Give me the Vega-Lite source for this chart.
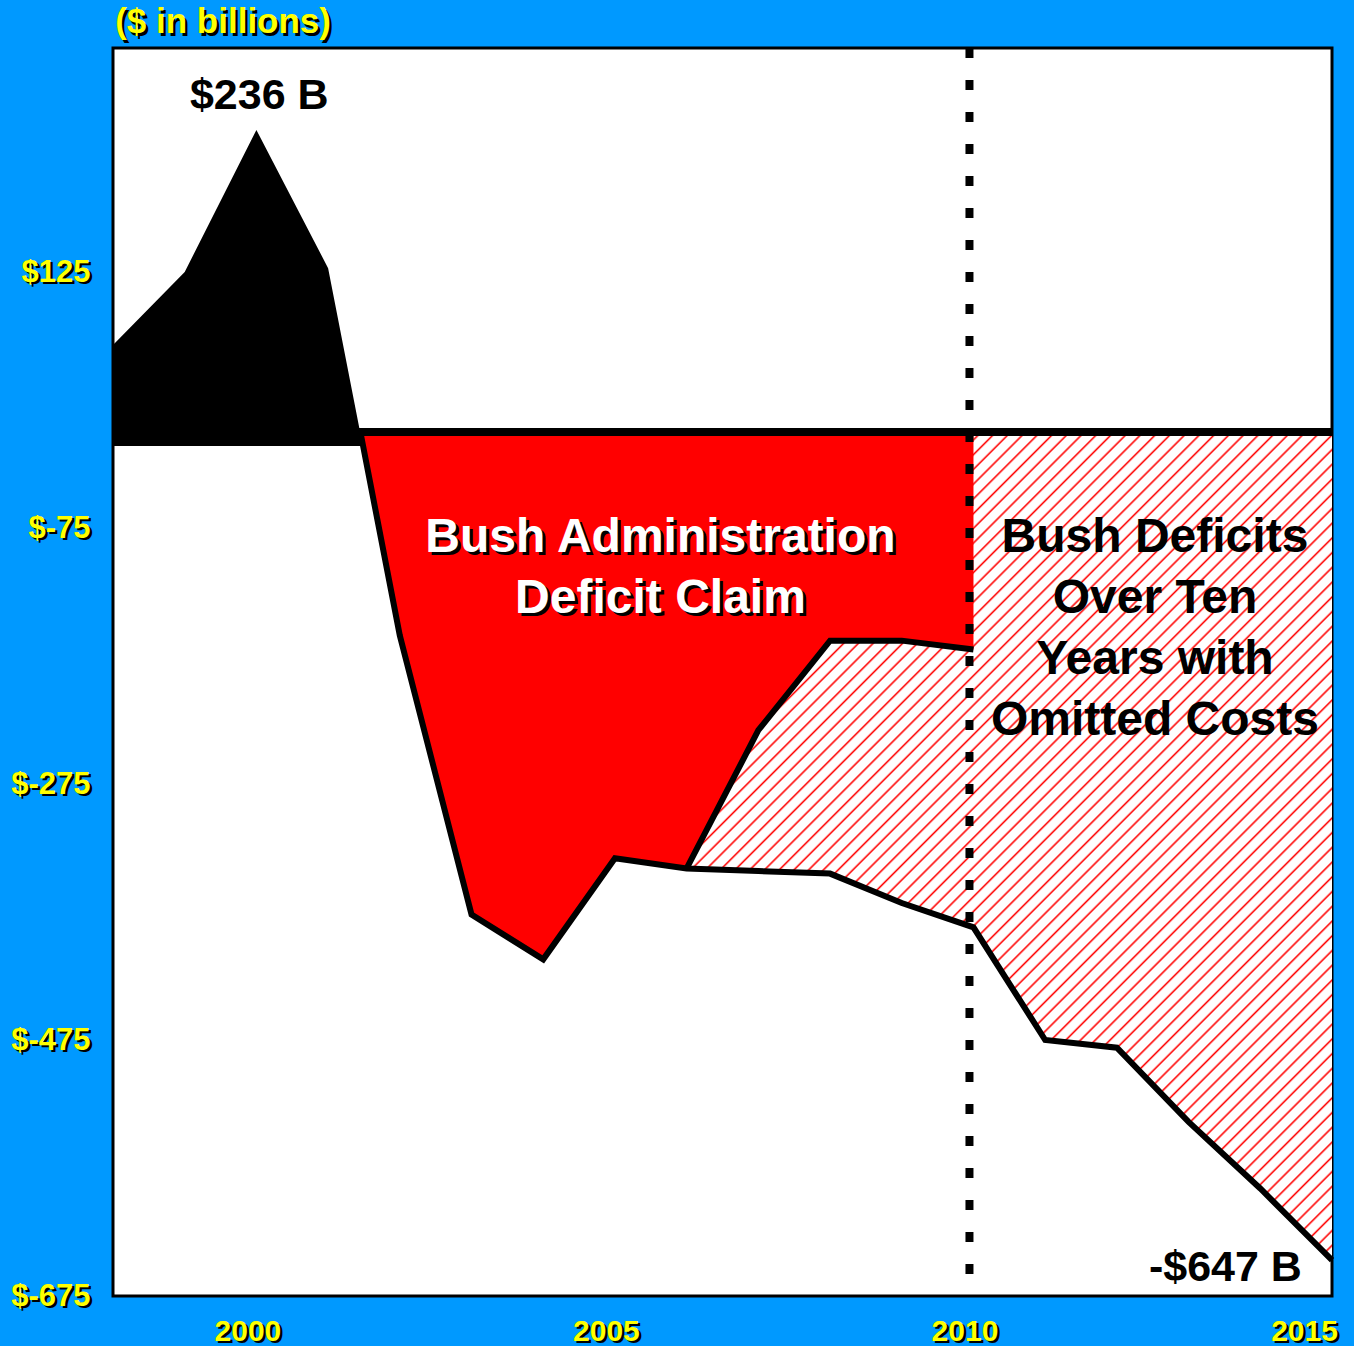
{
  "$schema": "https://vega.github.io/schema/vega-lite/v6.json",
  "width": 1219,
  "height": 1248,
  "padding": {"left": 113, "top": 48, "right": 22, "bottom": 50},
  "autosize": {"type": "none"},
  "background": "#0099ff",
  "config": {
    "view": {"stroke": "#000000", "strokeWidth": 3, "fill": "#ffffff"},
    "text": {"font": "Liberation Sans", "fontWeight": "bold"}
  },
  "datasets": {
    "main": [
      {"series": "surplus", "year": 1998, "value": 68},
      {"series": "surplus", "year": 1999, "value": 125},
      {"series": "surplus", "year": 2000, "value": 236},
      {"series": "surplus", "year": 2001, "value": 128},
      {"series": "surplus", "year": 2001.484, "value": -11},
      {"series": "actual", "year": 2001.45, "value": 0},
      {"series": "actual", "year": 2002, "value": -159},
      {"series": "actual", "year": 2003, "value": -377},
      {"series": "actual", "year": 2004, "value": -412},
      {"series": "actual", "year": 2005, "value": -333},
      {"series": "actual", "year": 2006, "value": -341},
      {"series": "actual", "year": 2007, "value": -343},
      {"series": "actual", "year": 2008, "value": -345},
      {"series": "actual", "year": 2009, "value": -368},
      {"series": "actual", "year": 2010, "value": -387},
      {"series": "actual", "year": 2011, "value": -475},
      {"series": "actual", "year": 2012, "value": -481},
      {"series": "actual", "year": 2013, "value": -539},
      {"series": "actual", "year": 2014, "value": -591},
      {"series": "actual", "year": 2015, "value": -647},
      {"series": "claim", "year": 2001.45, "value": 0},
      {"series": "claim", "year": 2002, "value": -159},
      {"series": "claim", "year": 2003, "value": -377},
      {"series": "claim", "year": 2004, "value": -412},
      {"series": "claim", "year": 2005, "value": -333},
      {"series": "claim", "year": 2006, "value": -341},
      {"series": "claim", "year": 2007, "value": -233},
      {"series": "claim", "year": 2008, "value": -163},
      {"series": "claim", "year": 2009, "value": -163},
      {"series": "claim", "year": 2010, "value": -170}
    ]
  },
  "encoding": {
    "x": {"field": "year", "type": "quantitative", "scale": {"domain": [1998, 2015], "nice": false, "zero": false}, "axis": null},
    "y": {"field": "value", "type": "quantitative", "scale": {"domain": [-675, 300], "nice": false, "zero": false}, "axis": null}
  },
  "resolve": {"axis": {"x": "independent", "y": "independent"}},
  "layer": [
    {
      "data": {"name": "main"},
      "transform": [{"filter": "datum.series == 'actual' && datum.year >= 2006"}],
      "mark": {
        "type": "area",
        "fill": {
          "gradient": "linear",
          "x1": 0, "y1": 0, "x2": 0.8627, "y2": 1.107,
          "stops": [
{"offset":0,"color":"#f00"},{"offset":0.0015,"color":"#fff"},{"offset":0.0085,"color":"#fff"},
{"offset":0.01,"color":"#f00"},{"offset":0.0115,"color":"#fff"},{"offset":0.0185,"color":"#fff"},
{"offset":0.02,"color":"#f00"},{"offset":0.0215,"color":"#fff"},{"offset":0.0285,"color":"#fff"},
{"offset":0.03,"color":"#f00"},{"offset":0.0315,"color":"#fff"},{"offset":0.0385,"color":"#fff"},
{"offset":0.04,"color":"#f00"},{"offset":0.0415,"color":"#fff"},{"offset":0.0485,"color":"#fff"},
{"offset":0.05,"color":"#f00"},{"offset":0.0515,"color":"#fff"},{"offset":0.0585,"color":"#fff"},
{"offset":0.06,"color":"#f00"},{"offset":0.0615,"color":"#fff"},{"offset":0.0685,"color":"#fff"},
{"offset":0.07,"color":"#f00"},{"offset":0.0715,"color":"#fff"},{"offset":0.0785,"color":"#fff"},
{"offset":0.08,"color":"#f00"},{"offset":0.0815,"color":"#fff"},{"offset":0.0885,"color":"#fff"},
{"offset":0.09,"color":"#f00"},{"offset":0.0915,"color":"#fff"},{"offset":0.0985,"color":"#fff"},
{"offset":0.10,"color":"#f00"},{"offset":0.1015,"color":"#fff"},{"offset":0.1085,"color":"#fff"},
{"offset":0.11,"color":"#f00"},{"offset":0.1115,"color":"#fff"},{"offset":0.1185,"color":"#fff"},
{"offset":0.12,"color":"#f00"},{"offset":0.1215,"color":"#fff"},{"offset":0.1285,"color":"#fff"},
{"offset":0.13,"color":"#f00"},{"offset":0.1315,"color":"#fff"},{"offset":0.1385,"color":"#fff"},
{"offset":0.14,"color":"#f00"},{"offset":0.1415,"color":"#fff"},{"offset":0.1485,"color":"#fff"},
{"offset":0.15,"color":"#f00"},{"offset":0.1515,"color":"#fff"},{"offset":0.1585,"color":"#fff"},
{"offset":0.16,"color":"#f00"},{"offset":0.1615,"color":"#fff"},{"offset":0.1685,"color":"#fff"},
{"offset":0.17,"color":"#f00"},{"offset":0.1715,"color":"#fff"},{"offset":0.1785,"color":"#fff"},
{"offset":0.18,"color":"#f00"},{"offset":0.1815,"color":"#fff"},{"offset":0.1885,"color":"#fff"},
{"offset":0.19,"color":"#f00"},{"offset":0.1915,"color":"#fff"},{"offset":0.1985,"color":"#fff"},
{"offset":0.20,"color":"#f00"},{"offset":0.2015,"color":"#fff"},{"offset":0.2085,"color":"#fff"},
{"offset":0.21,"color":"#f00"},{"offset":0.2115,"color":"#fff"},{"offset":0.2185,"color":"#fff"},
{"offset":0.22,"color":"#f00"},{"offset":0.2215,"color":"#fff"},{"offset":0.2285,"color":"#fff"},
{"offset":0.23,"color":"#f00"},{"offset":0.2315,"color":"#fff"},{"offset":0.2385,"color":"#fff"},
{"offset":0.24,"color":"#f00"},{"offset":0.2415,"color":"#fff"},{"offset":0.2485,"color":"#fff"},
{"offset":0.25,"color":"#f00"},{"offset":0.2515,"color":"#fff"},{"offset":0.2585,"color":"#fff"},
{"offset":0.26,"color":"#f00"},{"offset":0.2615,"color":"#fff"},{"offset":0.2685,"color":"#fff"},
{"offset":0.27,"color":"#f00"},{"offset":0.2715,"color":"#fff"},{"offset":0.2785,"color":"#fff"},
{"offset":0.28,"color":"#f00"},{"offset":0.2815,"color":"#fff"},{"offset":0.2885,"color":"#fff"},
{"offset":0.29,"color":"#f00"},{"offset":0.2915,"color":"#fff"},{"offset":0.2985,"color":"#fff"},
{"offset":0.30,"color":"#f00"},{"offset":0.3015,"color":"#fff"},{"offset":0.3085,"color":"#fff"},
{"offset":0.31,"color":"#f00"},{"offset":0.3115,"color":"#fff"},{"offset":0.3185,"color":"#fff"},
{"offset":0.32,"color":"#f00"},{"offset":0.3215,"color":"#fff"},{"offset":0.3285,"color":"#fff"},
{"offset":0.33,"color":"#f00"},{"offset":0.3315,"color":"#fff"},{"offset":0.3385,"color":"#fff"},
{"offset":0.34,"color":"#f00"},{"offset":0.3415,"color":"#fff"},{"offset":0.3485,"color":"#fff"},
{"offset":0.35,"color":"#f00"},{"offset":0.3515,"color":"#fff"},{"offset":0.3585,"color":"#fff"},
{"offset":0.36,"color":"#f00"},{"offset":0.3615,"color":"#fff"},{"offset":0.3685,"color":"#fff"},
{"offset":0.37,"color":"#f00"},{"offset":0.3715,"color":"#fff"},{"offset":0.3785,"color":"#fff"},
{"offset":0.38,"color":"#f00"},{"offset":0.3815,"color":"#fff"},{"offset":0.3885,"color":"#fff"},
{"offset":0.39,"color":"#f00"},{"offset":0.3915,"color":"#fff"},{"offset":0.3985,"color":"#fff"},
{"offset":0.40,"color":"#f00"},{"offset":0.4015,"color":"#fff"},{"offset":0.4085,"color":"#fff"},
{"offset":0.41,"color":"#f00"},{"offset":0.4115,"color":"#fff"},{"offset":0.4185,"color":"#fff"},
{"offset":0.42,"color":"#f00"},{"offset":0.4215,"color":"#fff"},{"offset":0.4285,"color":"#fff"},
{"offset":0.43,"color":"#f00"},{"offset":0.4315,"color":"#fff"},{"offset":0.4385,"color":"#fff"},
{"offset":0.44,"color":"#f00"},{"offset":0.4415,"color":"#fff"},{"offset":0.4485,"color":"#fff"},
{"offset":0.45,"color":"#f00"},{"offset":0.4515,"color":"#fff"},{"offset":0.4585,"color":"#fff"},
{"offset":0.46,"color":"#f00"},{"offset":0.4615,"color":"#fff"},{"offset":0.4685,"color":"#fff"},
{"offset":0.47,"color":"#f00"},{"offset":0.4715,"color":"#fff"},{"offset":0.4785,"color":"#fff"},
{"offset":0.48,"color":"#f00"},{"offset":0.4815,"color":"#fff"},{"offset":0.4885,"color":"#fff"},
{"offset":0.49,"color":"#f00"},{"offset":0.4915,"color":"#fff"},{"offset":0.4985,"color":"#fff"},
{"offset":0.50,"color":"#f00"},{"offset":0.5015,"color":"#fff"},{"offset":0.5085,"color":"#fff"},
{"offset":0.51,"color":"#f00"},{"offset":0.5115,"color":"#fff"},{"offset":0.5185,"color":"#fff"},
{"offset":0.52,"color":"#f00"},{"offset":0.5215,"color":"#fff"},{"offset":0.5285,"color":"#fff"},
{"offset":0.53,"color":"#f00"},{"offset":0.5315,"color":"#fff"},{"offset":0.5385,"color":"#fff"},
{"offset":0.54,"color":"#f00"},{"offset":0.5415,"color":"#fff"},{"offset":0.5485,"color":"#fff"},
{"offset":0.55,"color":"#f00"},{"offset":0.5515,"color":"#fff"},{"offset":0.5585,"color":"#fff"},
{"offset":0.56,"color":"#f00"},{"offset":0.5615,"color":"#fff"},{"offset":0.5685,"color":"#fff"},
{"offset":0.57,"color":"#f00"},{"offset":0.5715,"color":"#fff"},{"offset":0.5785,"color":"#fff"},
{"offset":0.58,"color":"#f00"},{"offset":0.5815,"color":"#fff"},{"offset":0.5885,"color":"#fff"},
{"offset":0.59,"color":"#f00"},{"offset":0.5915,"color":"#fff"},{"offset":0.5985,"color":"#fff"},
{"offset":0.60,"color":"#f00"},{"offset":0.6015,"color":"#fff"},{"offset":0.6085,"color":"#fff"},
{"offset":0.61,"color":"#f00"},{"offset":0.6115,"color":"#fff"},{"offset":0.6185,"color":"#fff"},
{"offset":0.62,"color":"#f00"},{"offset":0.6215,"color":"#fff"},{"offset":0.6285,"color":"#fff"},
{"offset":0.63,"color":"#f00"},{"offset":0.6315,"color":"#fff"},{"offset":0.6385,"color":"#fff"},
{"offset":0.64,"color":"#f00"},{"offset":0.6415,"color":"#fff"},{"offset":0.6485,"color":"#fff"},
{"offset":0.65,"color":"#f00"},{"offset":0.6515,"color":"#fff"},{"offset":0.6585,"color":"#fff"},
{"offset":0.66,"color":"#f00"},{"offset":0.6615,"color":"#fff"},{"offset":0.6685,"color":"#fff"},
{"offset":0.67,"color":"#f00"},{"offset":0.6715,"color":"#fff"},{"offset":0.6785,"color":"#fff"},
{"offset":0.68,"color":"#f00"},{"offset":0.6815,"color":"#fff"},{"offset":0.6885,"color":"#fff"},
{"offset":0.69,"color":"#f00"},{"offset":0.6915,"color":"#fff"},{"offset":0.6985,"color":"#fff"},
{"offset":0.70,"color":"#f00"},{"offset":0.7015,"color":"#fff"},{"offset":0.7085,"color":"#fff"},
{"offset":0.71,"color":"#f00"},{"offset":0.7115,"color":"#fff"},{"offset":0.7185,"color":"#fff"},
{"offset":0.72,"color":"#f00"},{"offset":0.7215,"color":"#fff"},{"offset":0.7285,"color":"#fff"},
{"offset":0.73,"color":"#f00"},{"offset":0.7315,"color":"#fff"},{"offset":0.7385,"color":"#fff"},
{"offset":0.74,"color":"#f00"},{"offset":0.7415,"color":"#fff"},{"offset":0.7485,"color":"#fff"},
{"offset":0.75,"color":"#f00"},{"offset":0.7515,"color":"#fff"},{"offset":0.7585,"color":"#fff"},
{"offset":0.76,"color":"#f00"},{"offset":0.7615,"color":"#fff"},{"offset":0.7685,"color":"#fff"},
{"offset":0.77,"color":"#f00"},{"offset":0.7715,"color":"#fff"},{"offset":0.7785,"color":"#fff"},
{"offset":0.78,"color":"#f00"},{"offset":0.7815,"color":"#fff"},{"offset":0.7885,"color":"#fff"},
{"offset":0.79,"color":"#f00"},{"offset":0.7915,"color":"#fff"},{"offset":0.7985,"color":"#fff"},
{"offset":0.80,"color":"#f00"},{"offset":0.8015,"color":"#fff"},{"offset":0.8085,"color":"#fff"},
{"offset":0.81,"color":"#f00"},{"offset":0.8115,"color":"#fff"},{"offset":0.8185,"color":"#fff"},
{"offset":0.82,"color":"#f00"},{"offset":0.8215,"color":"#fff"},{"offset":0.8285,"color":"#fff"},
{"offset":0.83,"color":"#f00"},{"offset":0.8315,"color":"#fff"},{"offset":0.8385,"color":"#fff"},
{"offset":0.84,"color":"#f00"},{"offset":0.8415,"color":"#fff"},{"offset":0.8485,"color":"#fff"},
{"offset":0.85,"color":"#f00"},{"offset":0.8515,"color":"#fff"},{"offset":0.8585,"color":"#fff"},
{"offset":0.86,"color":"#f00"},{"offset":0.8615,"color":"#fff"},{"offset":0.8685,"color":"#fff"},
{"offset":0.87,"color":"#f00"},{"offset":0.8715,"color":"#fff"},{"offset":0.8785,"color":"#fff"},
{"offset":0.88,"color":"#f00"},{"offset":0.8815,"color":"#fff"},{"offset":0.8885,"color":"#fff"},
{"offset":0.89,"color":"#f00"},{"offset":0.8915,"color":"#fff"},{"offset":0.8985,"color":"#fff"},
{"offset":0.90,"color":"#f00"},{"offset":0.9015,"color":"#fff"},{"offset":0.9085,"color":"#fff"},
{"offset":0.91,"color":"#f00"},{"offset":0.9115,"color":"#fff"},{"offset":0.9185,"color":"#fff"},
{"offset":0.92,"color":"#f00"},{"offset":0.9215,"color":"#fff"},{"offset":0.9285,"color":"#fff"},
{"offset":0.93,"color":"#f00"},{"offset":0.9315,"color":"#fff"},{"offset":0.9385,"color":"#fff"},
{"offset":0.94,"color":"#f00"},{"offset":0.9415,"color":"#fff"},{"offset":0.9485,"color":"#fff"},
{"offset":0.95,"color":"#f00"},{"offset":0.9515,"color":"#fff"},{"offset":0.9585,"color":"#fff"},
{"offset":0.96,"color":"#f00"},{"offset":0.9615,"color":"#fff"},{"offset":0.9685,"color":"#fff"},
{"offset":0.97,"color":"#f00"},{"offset":0.9715,"color":"#fff"},{"offset":0.9785,"color":"#fff"},
{"offset":0.98,"color":"#f00"},{"offset":0.9815,"color":"#fff"},{"offset":0.9885,"color":"#fff"},
{"offset":0.99,"color":"#f00"},{"offset":0.9915,"color":"#fff"},{"offset":0.9985,"color":"#fff"},
{"offset":1,"color":"#f00"}
          ]
        }
      },
      "encoding": {
        "x": {"field": "year", "type": "quantitative", "scale": {"domain": [1998, 2015], "nice": false, "zero": false},
          "axis": {"orient": "bottom", "values": [2000, 2005, 2010, 2015], "format": "d", "ticks": false, "tickSize": 0, "domain": false, "grid": false,
            "labelFont": "Liberation Sans", "labelFontSize": 30, "labelFontWeight": "bold", "labelColor": "#000000",
            "labelBaseline": "alphabetic", "labelAlign": "center", "labelPadding": 46.5,
            "labelOffset": {"condition": {"test": "datum.value == 2015", "value": -25.5}, "value": -6.5},
            "labelOverlap": false, "labelFlush": false, "labelBound": false, "title": null, "zindex": 1}},
        "y": {"field": "value", "type": "quantitative", "scale": {"domain": [-675, 300], "nice": false, "zero": false},
          "axis": {"orient": "left", "values": [125, -75, -275, -475, -675], "labelExpr": "'$' + datum.value", "ticks": false, "tickSize": 0, "domain": false, "grid": false,
            "labelFont": "Liberation Sans", "labelFontSize": 31, "labelFontWeight": "bold", "labelColor": "#000000",
            "labelAlign": "right", "labelBaseline": "middle", "labelPadding": 20.5, "labelOffset": 2.5,
            "labelOverlap": false, "labelFlush": false, "labelBound": false, "title": null, "zindex": 1}},
        "y2": {"datum": 0}
      }
    },
    {
      "data": {"name": "main"},
      "transform": [{"filter": "datum.series == 'claim'"}],
      "mark": {"type": "area", "fill": "#ff0000"},
      "encoding": {"y2": {"datum": 0}}
    },
    {
      "data": {"name": "main"},
      "transform": [{"filter": "datum.series == 'surplus'"}],
      "mark": {"type": "area", "fill": "#000000"},
      "encoding": {"y2": {"datum": -11}}
    },
    {
      "data": {"values": [{"year": 1998, "end": 2015, "value": 0}]},
      "mark": {"type": "rule", "stroke": "#000000", "strokeWidth": 8},
      "encoding": {"x2": {"field": "end"}}
    },
    {
      "data": {"name": "main"},
      "transform": [{"filter": "datum.series == 'claim' && datum.year >= 2006"}],
      "mark": {"type": "line", "stroke": "#000000", "strokeWidth": 6},
      "encoding": {}
    },
    {
      "data": {"name": "main"},
      "transform": [{"filter": "datum.series == 'actual'"}],
      "mark": {"type": "line", "stroke": "#000000", "strokeWidth": 6},
      "encoding": {
        "x": {"field": "year", "type": "quantitative", "scale": {"domain": [1998, 2015], "nice": false, "zero": false},
          "axis": {"orient": "bottom", "values": [2000, 2005, 2010, 2015], "format": "d", "ticks": false, "tickSize": 0, "domain": false, "grid": false,
            "labelFont": "Liberation Sans", "labelFontSize": 30, "labelFontWeight": "bold", "labelColor": "#ffff00",
            "labelBaseline": "alphabetic", "labelAlign": "center", "labelPadding": 44,
            "labelOffset": {"condition": {"test": "datum.value == 2015", "value": -28}, "value": -9},
            "labelOverlap": false, "labelFlush": false, "labelBound": false, "title": null, "zindex": 2}},
        "y": {"field": "value", "type": "quantitative", "scale": {"domain": [-675, 300], "nice": false, "zero": false},
          "axis": {"orient": "left", "values": [125, -75, -275, -475, -675], "labelExpr": "'$' + datum.value", "ticks": false, "tickSize": 0, "domain": false, "grid": false,
            "labelFont": "Liberation Sans", "labelFontSize": 31, "labelFontWeight": "bold", "labelColor": "#ffff00",
            "labelAlign": "right", "labelBaseline": "middle", "labelPadding": 23, "labelOffset": 0,
            "labelOverlap": false, "labelFlush": false, "labelBound": false, "title": null, "zindex": 2}}
      }
    },
    {
      "data": {"values": [{"year": 2010, "value": 300, "end": -675}]},
      "mark": {"type": "rule", "stroke": "#000000", "strokeWidth": 8, "strokeDash": [10, 22], "xOffset": -4},
      "encoding": {"y2": {"field": "end"}}
    },
    {
      "data": {"values": [{"year": 1998.03, "value": 311.7, "label": "($ in billions)"}]},
      "mark": {"type": "text", "font": "Liberation Sans", "fontWeight": "bold", "fontSize": 35, "align": "left", "baseline": "alphabetic", "fill": "#000000", "dx": 2.5, "dy": 2.5},
      "encoding": {"text": {"field": "label"}}
    },
    {
      "data": {"values": [{"year": 1998.03, "value": 311.7, "label": "($ in billions)"}]},
      "mark": {"type": "text", "font": "Liberation Sans", "fontWeight": "bold", "fontSize": 35, "align": "left", "baseline": "alphabetic", "fill": "#ffff00"},
      "encoding": {"text": {"field": "label"}}
    },
    {
      "data": {"values": [{"year": 2000.04, "value": 252.5, "label": "$236 B"}]},
      "mark": {"type": "text", "font": "Liberation Sans", "fontWeight": "bold", "fontSize": 43, "align": "center", "baseline": "alphabetic", "fill": "#000000"},
      "encoding": {"text": {"field": "label"}}
    },
    {
      "data": {"values": [{"year": 2014.58, "value": -663, "label": "-$647 B"}]},
      "mark": {"type": "text", "font": "Liberation Sans", "fontWeight": "bold", "fontSize": 43, "align": "right", "baseline": "alphabetic", "fill": "#000000"},
      "encoding": {"text": {"field": "label"}}
    },
    {
      "data": {"values": [{"year": 2005.635, "value": -93.5, "label": "Bush Administration\nDeficit Claim"}]},
      "mark": {"type": "text", "font": "Liberation Sans", "fontWeight": "bold", "fontSize": 48, "align": "center", "baseline": "alphabetic", "lineBreak": "\n", "lineHeight": 61, "fill": "#000000", "dx": 3, "dy": 3},
      "encoding": {"text": {"field": "label"}}
    },
    {
      "data": {"values": [{"year": 2005.635, "value": -93.5, "label": "Bush Administration\nDeficit Claim"}]},
      "mark": {"type": "text", "font": "Liberation Sans", "fontWeight": "bold", "fontSize": 48, "align": "center", "baseline": "alphabetic", "lineBreak": "\n", "lineHeight": 61, "fill": "#ffffff"},
      "encoding": {"text": {"field": "label"}}
    },
    {
      "data": {"values": [{"year": 2012.531, "value": -93.5, "label": "Bush Deficits\nOver Ten\nYears with\nOmitted Costs"}]},
      "mark": {"type": "text", "font": "Liberation Sans", "fontWeight": "bold", "fontSize": 48, "align": "center", "baseline": "alphabetic", "lineBreak": "\n", "lineHeight": 61, "fill": "#000000"},
      "encoding": {"text": {"field": "label"}}
    }
  ]
}
